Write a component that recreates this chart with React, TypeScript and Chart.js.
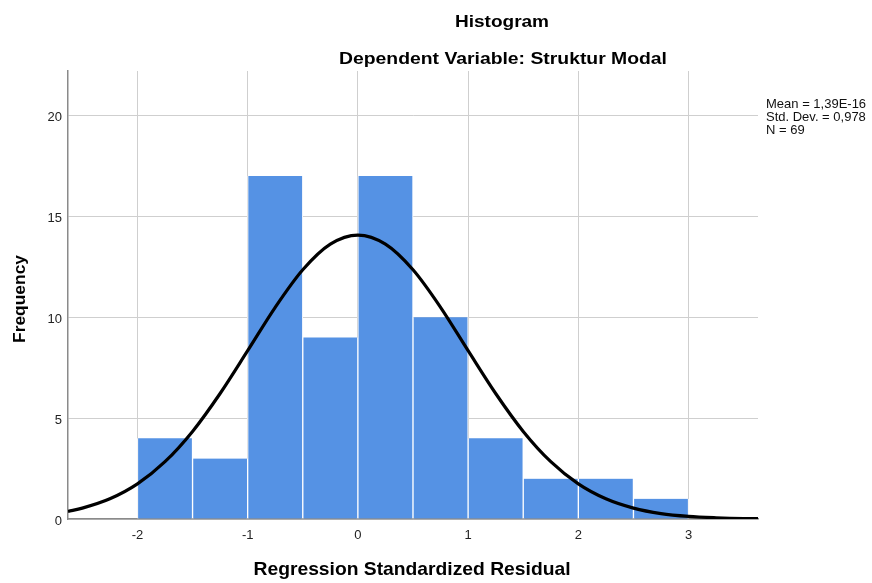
import { useEffect, useRef } from 'react';
import { Chart, registerables } from 'chart.js';

Chart.register(...registerables);

// ---- data ----
const binCenters = [-1.75, -1.25, -0.75, -0.25, 0.25, 0.75, 1.25, 1.75, 2.25, 2.75];
const frequencies = [4, 3, 17, 9, 17, 10, 4, 2, 2, 1];

const curveX = [-2.63, -2.5, -2.25, -2, -1.75, -1.5, -1.25, -1, -0.75, -0.5, -0.25, 0, 0.25, 0.5, 0.75, 1, 1.25, 1.5, 1.75, 2, 2.25, 2.5, 2.75, 3, 3.25, 3.5, 3.63];
const curveY = [0.38, 0.54, 1.0, 1.74, 2.84, 4.34, 6.22, 8.34, 10.49, 12.35, 13.62, 14.07, 13.62, 12.35, 10.49, 8.34, 6.22, 4.34, 2.84, 1.74, 1.0, 0.54, 0.27, 0.13, 0.06, 0.02, 0.015];

const xTickValues = [-2, -1, 0, 1, 2, 3];
const yTickValues = [0, 5, 10, 15, 20];

const chartTitle = 'Histogram';
const chartSubtitle = 'Dependent Variable: Struktur Modal';
const xAxisTitle = 'Regression Standardized Residual';
const yAxisTitle = 'Frequency';
const statsLines = ['Mean = 1,39E-16', 'Std. Dev. = 0,978', 'N = 69'];

const FONT = '"Liberation Sans", Arial, Helvetica, sans-serif';

function drawText(
  ctx: CanvasRenderingContext2D,
  text: string,
  x: number,
  y: number,
  font: string,
  targetWidth?: number,
  rotate = false,
) {
  ctx.save();
  ctx.font = font;
  ctx.textAlign = 'center';
  ctx.textBaseline = 'alphabetic';
  ctx.translate(x, y);
  if (rotate) ctx.rotate(-Math.PI / 2);
  if (targetWidth) {
    const w = ctx.measureText(text).width;
    ctx.scale(targetWidth / w, 1);
  }
  ctx.fillText(text, 0, 0);
  ctx.restore();
}

const textPlugin = {
  id: 'spssTexts',
  afterDraw(chart: any) {
    const ctx: CanvasRenderingContext2D = chart.ctx;
    ctx.save();
    ctx.fillStyle = '#000';
    drawText(ctx, chartTitle, 502, 27, `bold 16px ${FONT}`, 94);
    drawText(ctx, chartSubtitle, 503, 64, `bold 16px ${FONT}`, 328);
    drawText(ctx, xAxisTitle, 412, 575, `bold 19px ${FONT}`, 317);
    drawText(ctx, yAxisTitle, 25, 299, `bold 16px ${FONT}`, 88, true);
    ctx.font = `13px ${FONT}`;
    ctx.textAlign = 'left';
    ctx.textBaseline = 'alphabetic';
    ctx.fillStyle = '#111';
    statsLines.forEach((s, i) => ctx.fillText(s, 766, 108 + i * 13));
    ctx.restore();
  },
};

export default function App() {
  const ref = useRef<HTMLCanvasElement | null>(null);

  useEffect(() => {
    if (!ref.current) return;
    const chart = new Chart(ref.current, {
      type: 'bar',
      data: {
        datasets: [
          {
            type: 'line',
            data: curveX.map((x, i) => ({ x, y: curveY[i] })),
            borderColor: '#000',
            borderWidth: 3.2,
            pointRadius: 0,
            cubicInterpolationMode: 'monotone',
            fill: false,
            order: 0,
          } as any,
          {
            type: 'bar',
            data: binCenters.map((x, i) => ({ x, y: frequencies[i] })),
            backgroundColor: '#5592E4',
            borderColor: '#ffffff',
            borderWidth: { left: 1, right: 1, top: 0, bottom: 0 },
            borderSkipped: false,
            barPercentage: 1,
            categoryPercentage: 1,
            grouped: false,
            order: 1,
          } as any,
        ],
      },
      options: {
        animation: false,
        responsive: false,
        devicePixelRatio: 1,
        layout: { padding: { left: 48, right: 114, top: 71, bottom: 39 } },
        plugins: {
          legend: { display: false },
          tooltip: { enabled: false },
          title: { display: false },
        },
        scales: {
          x: {
            type: 'linear',
            min: -2.63,
            max: 3.63,
            offset: false,
            afterBuildTicks: (scale: any) => {
              scale.ticks = xTickValues.map((v) => ({ value: v }));
            },
            afterFit: (scale: any) => {
              scale.height = 25;
            },
            grid: { color: '#cfcfcf', lineWidth: 1, drawTicks: false, offset: false },
            border: { display: true, color: '#8a8a8a', width: 1.5 },
            ticks: {
              padding: 9,
              color: '#222',
              font: { family: FONT, size: 13 },
              maxRotation: 0,
              autoSkip: false,
              callback: (v: any) => String(v),
            },
          },
          y: {
            type: 'linear',
            min: 0,
            max: 22.2,
            afterBuildTicks: (scale: any) => {
              scale.ticks = yTickValues.map((v) => ({ value: v }));
            },
            afterFit: (scale: any) => {
              scale.width = 20;
            },
            grid: { color: '#cfcfcf', lineWidth: 1, drawTicks: false },
            border: { display: true, color: '#8a8a8a', width: 1.5 },
            ticks: {
              padding: 6,
              labelOffset: 2,
              color: '#222',
              font: { family: FONT, size: 13 },
              autoSkip: false,
              callback: (v: any) => String(v),
            },
          },
        },
      },
      plugins: [textPlugin],
    } as any);
    return () => chart.destroy();
  }, []);

  return (
    <div style={{ position: 'fixed', left: 0, top: 0, width: 872, height: 583, background: '#fff' }}>
      <canvas ref={ref} width={872} height={583} style={{ width: 872, height: 583, display: 'block' }} />
    </div>
  );
}
